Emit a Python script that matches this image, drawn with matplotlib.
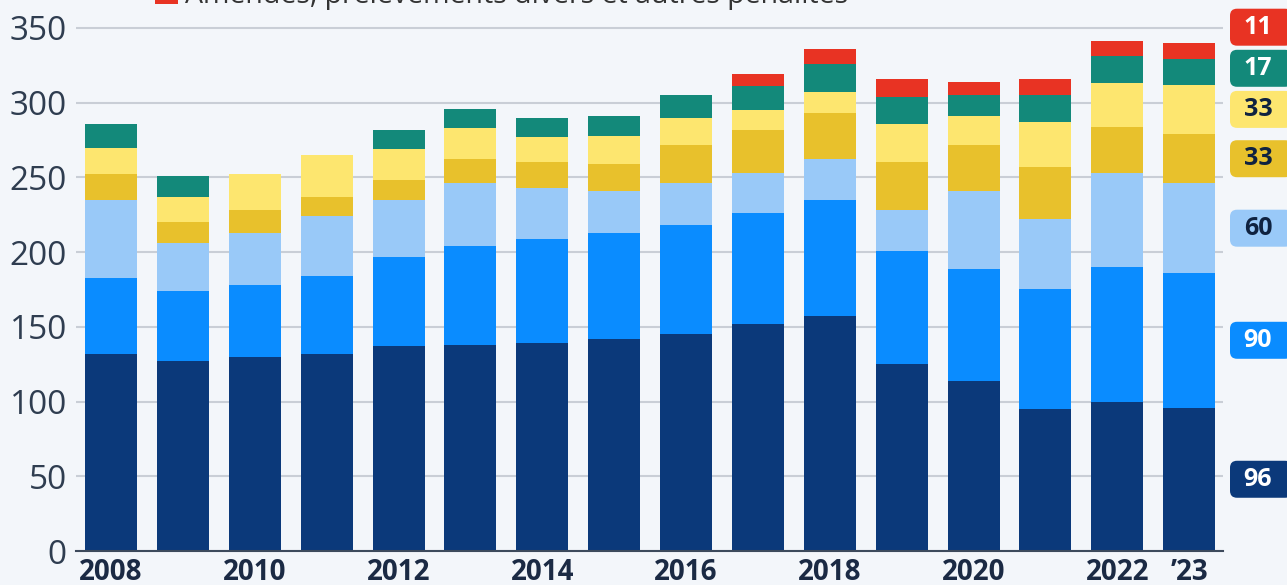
import numpy as np
import matplotlib.pyplot as plt
from matplotlib.patches import FancyBboxPatch, Rectangle
from matplotlib.transforms import IdentityTransform

# values (stacked, bottom to top)
years = list(range(2008, 2024))
tick_labels = ["2008", "", "2010", "", "2012", "", "2014", "", "2016", "",
               "2018", "", "2020", "", "2022", "\u201923"]
navy = [132, 127, 130, 132, 137, 138, 139, 142, 145, 152, 157, 125, 114, 95, 100, 96]
blue = [51, 47, 48, 52, 60, 66, 70, 71, 73, 74, 78, 76, 75, 80, 90, 90]
light_blue = [52, 32, 35, 40, 38, 42, 34, 28, 28, 27, 27, 27, 52, 47, 63, 60]
mustard = [17, 14, 15, 13, 13, 16, 17, 18, 26, 29, 31, 32, 31, 35, 31, 33]
yellow = [18, 17, 24, 28, 21, 21, 17, 19, 18, 13, 14, 26, 19, 30, 29, 33]
teal = [16, 14, 0, 0, 13, 13, 13, 13, 15, 16, 19, 18, 14, 18, 18, 17]
red = [0, 0, 0, 0, 0, 0, 0, 0, 0, 8, 10, 12, 9, 11, 10, 11]
legend_label = "Amendes, prélèvements divers et autres pénalités"

series = [navy, blue, light_blue, mustard, yellow, teal, red]
colors = ["#0b397a", "#0a8cff", "#99c9f8", "#e8c12c", "#fde66f", "#13897a", "#e83323"]
label_text_colors = ["white", "white", "#0f2240", "#0f2240", "#0f2240", "white", "white"]

BG = "#f3f6fa"
GRID = "#c9ced6"
W, H = 1287, 585

plt.rcParams['font.family'] = ['Open Sans', 'DejaVu Sans']

fig = plt.figure(figsize=(W / 100, H / 100), dpi=100, facecolor=BG)
ax = fig.add_axes([76 / W, 34 / H, (1223 - 76) / W, 551 / H])
ax.set_facecolor(BG)

x = np.arange(len(years))
bottom = np.zeros(len(years))
for vals, c in zip(series, colors):
    ax.bar(x, vals, width=0.7235, bottom=bottom, color=c, linewidth=0, zorder=2)
    bottom += np.array(vals)

ax.set_xlim(-0.487, 15.47)
ax.set_ylim(0, 368.7)
ax.set_yticks(range(0, 351, 50))
ax.yaxis.grid(True, color=GRID, lw=1.5, zorder=0)
ax.set_axisbelow(True)
for s in ["top", "right", "left"]:
    ax.spines[s].set_visible(False)
ax.spines["bottom"].set_color("#3d4a5c")
ax.spines["bottom"].set_linewidth(1.5)
ax.spines["bottom"].set_zorder(3)

ax.set_xticks(x)
ax.set_xticklabels(tick_labels, fontsize=20, fontweight="bold", color="#1b2a44")
ax.tick_params(axis="x", length=0, pad=5)
ax.tick_params(axis="y", length=0, pad=6.5, labelsize=24, labelcolor="#2f3d50")

# value boxes on the right for the last year, spread so they don't overlap
last = [s[-1] for s in series]
cum = np.cumsum(last)
mids = cum - np.array(last) / 2
ys = []
for m in mids:
    if ys and m < ys[-1] + 27.5:
        m = ys[-1] + 27.5
    ys.append(m)

for val, yv, c, tc in zip(last, ys, colors, label_text_colors):
    yd = ax.transData.transform((0, yv))[1]
    box = FancyBboxPatch((1230, yd - 18.5), 62, 37,
                         boxstyle="round,pad=0,rounding_size=7",
                         transform=IdentityTransform(), facecolor=c, edgecolor="none")
    fig.add_artist(box)
    fig.text(1258, yd, str(val), transform=IdentityTransform(), ha="center", va="center",
             fontsize=18, fontweight="bold", color=tc)

# legend entry, cut by the top edge as in the reference
fig.add_artist(Rectangle((155, H - 4), 23, 23, transform=IdentityTransform(),
                         facecolor=colors[-1], edgecolor="none"))
fig.text(185, H - 3, legend_label, transform=IdentityTransform(), ha="left",
         va="baseline", fontsize=20.5, color="#333333")

fig.savefig("out.png", dpi=100, facecolor=BG)
